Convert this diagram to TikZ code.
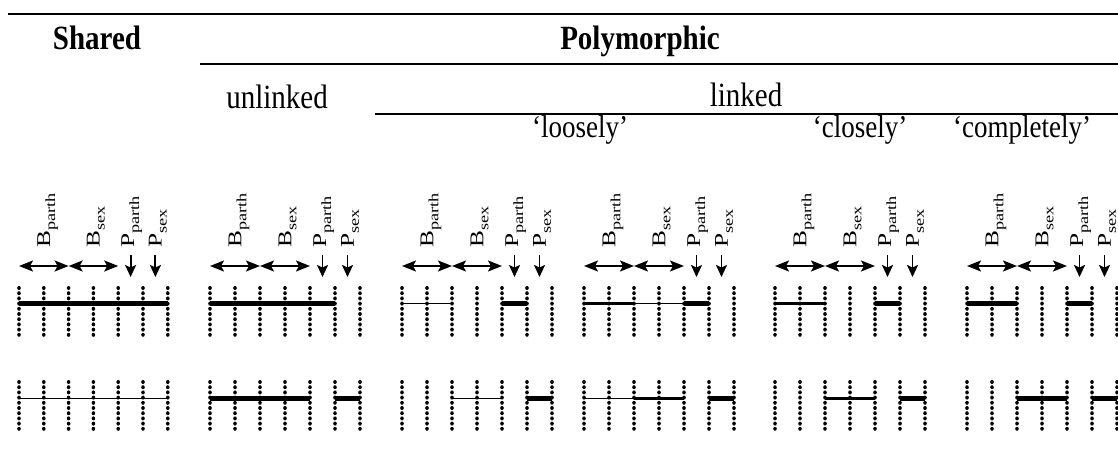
\documentclass[tikz,border=0pt]{standalone}
\usepackage{fontspec}
\setmainfont{Liberation Serif}
\usetikzlibrary{arrows.meta}
\newcommand\dotcolumn[2]{\foreach \k in {0,...,9}{\fill (#1,#2+\k*5.2) ellipse[x radius=1.8, y radius=2.0];}}
\newcommand\lbl[2]{\scalebox{1.3}[1]{#1\raisebox{-5pt}{\fontsize{14}{14}\selectfont #2}}}
\newcommand\tall[1]{\scalebox{1}[1.17]{#1}}
\tikzset{
  headtext/.style={font=\fontsize{29}{34}\selectfont\bfseries, anchor=base, inner sep=0pt},
  subtext/.style={font=\fontsize{29}{34}\selectfont, anchor=base, inner sep=0pt},
  qtext/.style={font=\fontsize{27}{32}\selectfont, anchor=base, inner sep=0pt},
  rulethick/.style={line width=2pt},
  rulethin/.style={line width=1.5pt},
  dbl/.style={line width=1.9pt, {Stealth[length=14pt,width=11pt,inset=3pt]}-{Stealth[length=14pt,width=11pt,inset=3pt]}},
  downarrow/.style={line width=1.9pt, -{Stealth[length=12pt,width=11pt,inset=2.5pt]}},
  lab/.style={rotate=90, anchor=base west, inner sep=0pt, font=\fontsize{19.5}{22}\selectfont},
  thickbar/.style={line width=5pt},
  medbar/.style={line width=3pt},
  thinbar/.style={line width=1.6pt},
}
\newcommand\panel[3]{% #1 name, #2 x0, #3 spacing
  \foreach \i in {0,...,6}{
    \coordinate (#1c\i) at (#2+\i*#3,266);
    \coordinate (#1t\i) at (#2+\i*#3,303.6);
    \coordinate (#1b\i) at (#2+\i*#3,398.5);
    \dotcolumn{#2+\i*#3}{288}
    \dotcolumn{#2+\i*#3}{382}
  }
  \coordinate (#1pa) at (#2+4.5*#3,255);
  \coordinate (#1pae) at (#2+4.5*#3,277);
  \coordinate (#1ps) at (#2+5.5*#3,255);
  \coordinate (#1pse) at (#2+5.5*#3,277);
  \draw[dbl] (#1c0) -- (#1c2);
  \draw[dbl] (#1c2) -- (#1c4);
  \draw[downarrow] (#1pa) -- (#1pae);
  \draw[downarrow] (#1ps) -- (#1pse);
  \node[lab] (#1lbp) at (#2+1*#3+6.3,248) {\lbl{B}{parth}};
  \node[lab] (#1lbs) at (#2+3*#3+6.3,248) {\lbl{B}{sex}};
  \node[lab] (#1lpp) at (#2+4.5*#3+3.5,248) {\lbl{P}{parth}};
  \node[lab] (#1lps) at (#2+5.5*#3+6.3,248) {\lbl{P}{sex}};
}
\begin{document}
\begin{tikzpicture}[x=1pt,y=-1pt]
\clip (0,0) rectangle (1118,452);
\fill[white] (0,0) rectangle (1118,452);
% header rules
\coordinate (r1a) at (8,14);   \coordinate (r1b) at (1118,14);
\coordinate (r2a) at (200,64); \coordinate (r2b) at (1118,64);
\coordinate (r3a) at (375,114);\coordinate (r3b) at (1118,114);
\draw[rulethick] (r1a) -- (r1b);
\draw[rulethin] (r2a) -- (r2b);
\draw[rulethin] (r3a) -- (r3b);
% header texts
\node[headtext] (shared) at (97,50) {\tall{Shared}};
\node[headtext] (poly) at (640,50) {\tall{Polymorphic}};
\node[subtext] (unlinked) at (277,108) {\tall{unlinked}};
\node[subtext] (linked) at (746,106) {\tall{linked}};
\node[qtext] (loosely) at (580,137) {\tall{‘loosely’}};
\node[qtext] (closely) at (860,137) {\tall{‘closely’}};
\node[qtext] (completely) at (1022,137) {\tall{‘completely’}};
% panels
\panel{A}{19}{24.8}
\panel{B}{210}{25}
\panel{C}{402}{25}
\panel{D}{584}{25}
\panel{E}{775}{25}
\panel{F}{967}{25}
% bars: shared
\draw[thickbar] (At0) -- (At6);
\draw[thinbar] (Ab0) -- (Ab6);
% unlinked
\draw[thickbar] (Bt0) -- (Bt5);
\draw[thickbar] (Bb0) -- (Bb4);
\draw[thickbar] (Bb5) -- (Bb6);
% loosely
\draw[thinbar] (Ct0) -- (Ct2);
\draw[thickbar] (Ct4) -- (Ct5);
\draw[thinbar] (Cb2) -- (Cb4);
\draw[thickbar] (Cb5) -- (Cb6);
% loosely (second)
\draw[medbar] (Dt0) -- (Dt2);
\draw[thinbar] (Dt2) -- (Dt4);
\draw[thickbar] (Dt4) -- (Dt5);
\draw[thinbar] (Db0) -- (Db2);
\draw[medbar] (Db2) -- (Db4);
\draw[thickbar] (Db5) -- (Db6);
% closely
\draw[medbar] (Et0) -- (Et2);
\draw[thickbar] (Et4) -- (Et5);
\draw[medbar] (Eb2) -- (Eb4);
\draw[thickbar] (Eb5) -- (Eb6);
% completely
\draw[thickbar] (Ft0) -- (Ft2);
\draw[thickbar] (Ft4) -- (Ft5);
\draw[thickbar] (Fb2) -- (Fb4);
\draw[thickbar] (Fb5) -- (Fb6);
\end{tikzpicture}
\end{document}
